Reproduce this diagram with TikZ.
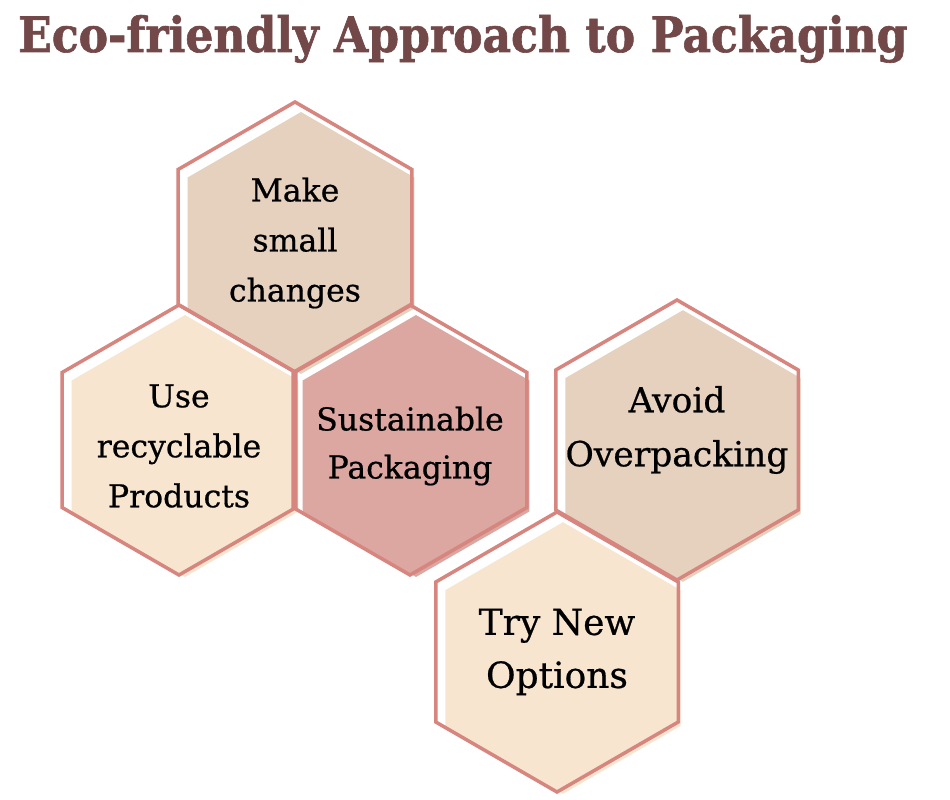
\documentclass[tikz,border=0pt]{standalone}
\usepackage{fontspec}
\setmainfont{DejaVu Serif}[FakeBold=0.6]
\newfontfamily\titlefont{DejaVu Serif Condensed}[FakeBold=1.2]
\usetikzlibrary{calc}
\definecolor{outlinec}{HTML}{D6857F}
\definecolor{tanc}{HTML}{E5D1BE}
\definecolor{peachc}{HTML}{F8E5CF}
\definecolor{rosec}{HTML}{DCA6A1}
\definecolor{titlec}{HTML}{734848}
\tikzset{
  outl/.style={draw=outlinec, line width=3.5pt, line join=miter},
  hextext/.style={align=center, inner sep=0pt, text=black},
}
% #1 name, #2 x, #3 y, #4 R, #5 fill colour, #6 text shift, #7 font, #8 text
\newcommand{\hexcell}[8]{%
  \coordinate (#1) at (#2,#3);
  \coordinate (#1f) at ($(#1)+(6,-6)$);
  \fill[#5] (#1f) +(90:{0.97*#4}) -- +(150:{0.97*#4}) -- +(210:{0.97*#4}) -- +(270:{0.97*#4}) -- +(330:{0.97*#4}) -- +(30:{0.97*#4}) -- cycle;
  \draw[outl] (#1) +(90:#4) -- +(150:#4) -- +(210:#4) -- +(270:#4) -- +(330:#4) -- +(30:#4) -- cycle;
  \node[hextext, font=#7] (#1t) at ($(#1)+(0,-6+#6)$) {#8};
}
\begin{document}
\begin{tikzpicture}[x=1pt,y=1pt]
\fill[white] (0,0) rectangle (950,800);
\useasboundingbox (0,0) rectangle (950,800);
\node[anchor=base west, inner sep=0pt, text=titlec] (title) at (18,748)
  {\resizebox{889pt}{37pt}{\titlefont\bfseries Eco-friendly Approach to Packaging}};
\hexcell{h1}{295}{563}{135}{tanc}{0}{\fontsize{31.5}{50}\selectfont}{Make\\small\\changes}
\hexcell{h2}{179}{360}{135}{peachc}{0}{\fontsize{31.5}{50}\selectfont}{Use\\recyclable\\Products}
\hexcell{h3}{410}{360}{135}{rosec}{0}{\fontsize{31.5}{48}\selectfont}{Sustainable\\Packaging}
\hexcell{h4}{677}{360}{140}{tanc}{16}{\fontsize{34.5}{54}\selectfont}{Avoid\\Overpacking}
\hexcell{h5}{557}{148}{140}{peachc}{6}{\fontsize{36}{53}\selectfont}{Try New\\Options}
\end{tikzpicture}
\end{document}
